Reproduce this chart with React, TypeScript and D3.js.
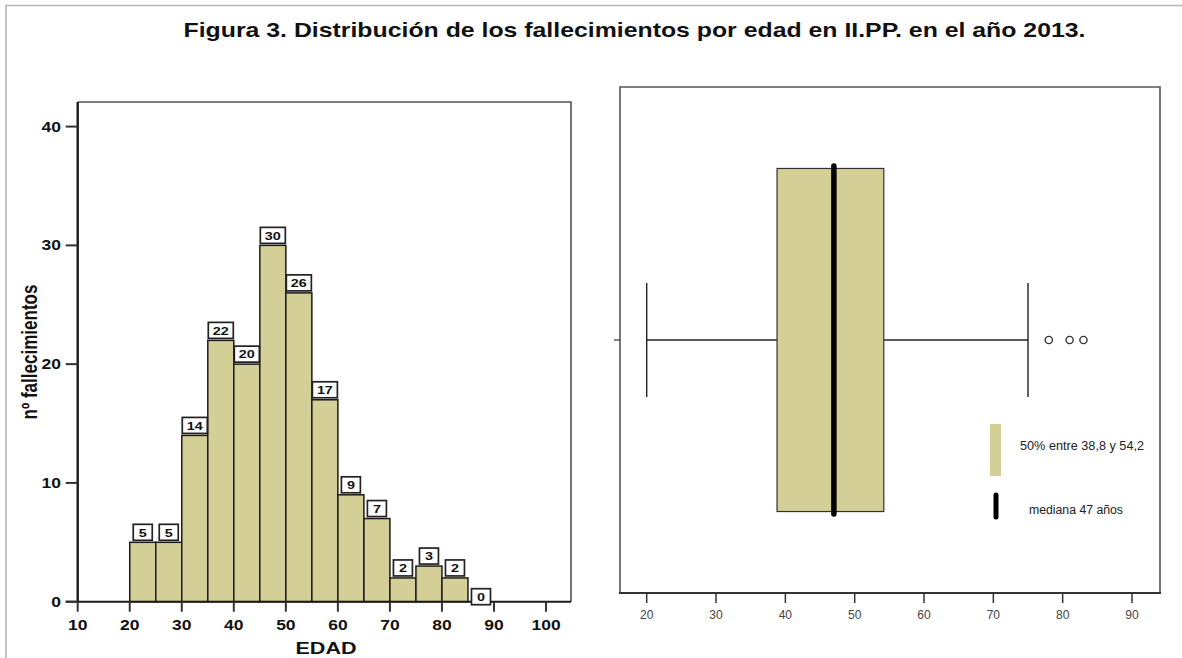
import React from "react";
import * as d3 from "d3";

// ---------- data ----------
const binStarts = [20, 25, 30, 35, 40, 45, 50, 55, 60, 65, 70, 75, 80, 85];
const binCounts = [5, 5, 14, 22, 20, 30, 26, 17, 9, 7, 2, 3, 2, 0];
const binWidth = 5;
const histXTicks = [10, 20, 30, 40, 50, 60, 70, 80, 90, 100];
const histYTicks = [0, 10, 20, 30, 40];

const boxCategory = ["EDAD"];
const boxQ1 = 38.8;
const boxMedian = 47;
const boxQ3 = 54.2;
const boxWhiskerLow = 20;
const boxWhiskerHigh = 75;
const boxOutliers = [78, 81, 83];
const boxXTicks = [20, 30, 40, 50, 60, 70, 80, 90];

const titleText = "Figura 3. Distribución de los fallecimientos por edad en II.PP. en el año 2013.";
const legendIqrText = "50% entre 38,8 y 54,2";
const legendMedianText = "mediana 47 años";

// ---------- styles ----------
const TAN = "#d3cf97";
const SX = 1.25; // horizontal stretch of the source image text
const FONT = "'Liberation Sans', Arial, Helvetica, sans-serif";

function SText({ x, y, sx = SX, anchor = "middle", size, weight = "bold", fill = "#111", children }: any) {
  return (
    <g transform={`translate(${x},${y}) scale(${sx},1)`}>
      <text x={0} y={0} textAnchor={anchor} fontSize={size} fontWeight={weight} fill={fill} fontFamily={FONT}>
        {children}
      </text>
    </g>
  );
}

export default function App() {
  // histogram scales
  const hx = d3.scaleLinear().domain([10, 104.8]).range([77.7, 571]);
  const hy = d3.scaleLinear().domain([0, 42.07]).range([601.7, 102]);
  const hLeft = hx.range()[0];
  const hRight = hx.range()[1];
  const hTop = hy.range()[1];
  const hBottom = hy.range()[0];

  // boxplot scales
  const bx = d3.scaleLinear().domain([20, 90]).range([646.7, 1132]);
  const bLeft = 620, bRight = 1160, bTop = 87, bBottom = 593;
  const by = d3.scaleBand().domain(boxCategory).range([bTop, bBottom]).padding(0);
  const cy = (by(boxCategory[0]) as number) + by.bandwidth() / 2;
  const boxHalf = by.bandwidth() * 0.339;
  const capHalf = by.bandwidth() * 0.1126;

  return (
    <svg width={1182} height={658} style={{ position: "absolute", left: 0, top: 0, background: "#fff" }}>
      {/* outer frame */}
      <path d="M6,700 V5.5 H1200" fill="none" stroke="#b5b5b5" strokeWidth={1.6} />

      {/* title */}
      <text
        x={634.5}
        y={37}
        textAnchor="middle"
        fontSize={21}
        fontWeight="bold"
        fontFamily={FONT}
        fill="#111"
        textLength={902}
        lengthAdjust="spacingAndGlyphs"
      >
        {titleText}
      </text>

      {/* ---------- histogram ---------- */}
      <path d={`M${hLeft},${hTop} H${hRight} V${hBottom}`} fill="none" stroke="#555" strokeWidth={1.6} />

      {/* bars */}
      {binStarts.map((s, i) =>
        binCounts[i] > 0 ? (
          <rect
            key={"b" + i}
            x={hx(s)}
            y={hy(binCounts[i])}
            width={hx(s + binWidth) - hx(s)}
            height={hy(0) - hy(binCounts[i])}
            fill={TAN}
            stroke="#1a1a1a"
            strokeWidth={1.5}
          />
        ) : null
      )}

      {/* axes */}
      <line x1={hLeft} x2={hLeft} y1={hTop} y2={hBottom + 1} stroke="#1a1a1a" strokeWidth={2.4} />
      <line x1={hLeft - 12} x2={hRight} y1={hBottom} y2={hBottom} stroke="#1a1a1a" strokeWidth={2} />
      {histYTicks.map((t) => (
        <g key={"yt" + t}>
          <line x1={hLeft - 12} x2={hLeft} y1={hy(t)} y2={hy(t)} stroke="#333" strokeWidth={2} />
          <SText x={61} y={hy(t) + 5} anchor="end" size={14}>
            {t}
          </SText>
        </g>
      ))}
      {histXTicks.map((t) => (
        <g key={"xt" + t}>
          <line x1={hx(t)} x2={hx(t)} y1={hBottom} y2={hBottom + 10} stroke="#333" strokeWidth={2} />
          <SText x={hx(t)} y={630} size={14}>
            {t}
          </SText>
        </g>
      ))}

      {/* value labels */}
      {binStarts.map((s, i) => {
        const v = binCounts[i];
        const w = String(v).length > 1 ? 25 : 19;
        const h = 16;
        const bottom = v === 0 ? hy(0) + 3 : hy(v) - 2;
        const cx = hx(s + binWidth / 2);
        return (
          <g key={"vl" + i}>
            <rect x={cx - w / 2} y={bottom - h} width={w} height={h} fill="#fff" stroke="#222" strokeWidth={1.7} />
            <SText x={cx} y={bottom - 3.8} size={11.5}>
              {v}
            </SText>
          </g>
        );
      })}

      {/* axis titles */}
      <text
        x={326}
        y={654}
        textAnchor="middle"
        fontSize={17}
        fontWeight="bold"
        fontFamily={FONT}
        fill="#111"
        textLength={61}
        lengthAdjust="spacingAndGlyphs"
      >
        EDAD
      </text>
      <g transform={`translate(37,352) scale(${SX},1) rotate(-90)`}>
        <text
          x={0}
          y={0}
          textAnchor="middle"
          fontSize={17}
          fontWeight="bold"
          fontFamily={FONT}
          fill="#111"
          textLength={135}
          lengthAdjust="spacingAndGlyphs"
        >
          nº fallecimientos
        </text>
      </g>

      {/* ---------- boxplot ---------- */}
      <path d={`M${bLeft},${bBottom} V${bTop} H${bRight} V${bBottom}`} fill="none" stroke="#555" strokeWidth={1.6} />
      <line x1={bLeft - 1} x2={bRight + 1} y1={bBottom} y2={bBottom} stroke="#333" strokeWidth={2} />
      <line x1={bLeft - 6} x2={bLeft} y1={cy} y2={cy} stroke="#333" strokeWidth={1.2} />
      {boxXTicks.map((t) => (
        <g key={"bt" + t}>
          <line x1={bx(t)} x2={bx(t)} y1={bBottom} y2={bBottom + 10} stroke="#333" strokeWidth={1.5} />
          <text x={bx(t)} y={619} textAnchor="middle" fontSize={12} fontFamily={FONT} fill="#444">
            {t}
          </text>
        </g>
      ))}

      {/* whiskers */}
      <line x1={bx(boxWhiskerLow)} x2={bx(boxQ1)} y1={cy} y2={cy} stroke="#222" strokeWidth={1.4} />
      <line x1={bx(boxQ3)} x2={bx(boxWhiskerHigh)} y1={cy} y2={cy} stroke="#222" strokeWidth={1.4} />
      <line x1={bx(boxWhiskerLow)} x2={bx(boxWhiskerLow)} y1={cy - capHalf} y2={cy + capHalf} stroke="#222" strokeWidth={1.4} />
      <line x1={bx(boxWhiskerHigh)} x2={bx(boxWhiskerHigh)} y1={cy - capHalf} y2={cy + capHalf} stroke="#222" strokeWidth={1.4} />

      {/* box */}
      <rect
        x={bx(boxQ1)}
        y={cy - boxHalf}
        width={bx(boxQ3) - bx(boxQ1)}
        height={boxHalf * 2}
        fill={TAN}
        stroke="#333"
        strokeWidth={1.2}
      />
      <line
        x1={bx(boxMedian)}
        x2={bx(boxMedian)}
        y1={cy - boxHalf - 2.5}
        y2={cy + boxHalf + 2.5}
        stroke="#000"
        strokeWidth={5.5}
        strokeLinecap="round"
      />

      {/* outliers */}
      {boxOutliers.map((o) => (
        <circle key={"o" + o} cx={bx(o)} cy={cy} r={3.6} fill="#fff" stroke="#333" strokeWidth={1.4} />
      ))}

      {/* legend */}
      <rect x={990} y={424} width={11} height={52} fill={TAN} />
      <text
        x={1020}
        y={449.5}
        fontSize={12.5}
        fontFamily={FONT}
        fill="#222"
        textLength={124}
        lengthAdjust="spacingAndGlyphs"
      >
        {legendIqrText}
      </text>
      <line x1={996} x2={996} y1={495} y2={517} stroke="#000" strokeWidth={5} strokeLinecap="round" />
      <text
        x={1029}
        y={514}
        fontSize={12.5}
        fontFamily={FONT}
        fill="#222"
        textLength={94}
        lengthAdjust="spacingAndGlyphs"
      >
        {legendMedianText}
      </text>
    </svg>
  );
}
